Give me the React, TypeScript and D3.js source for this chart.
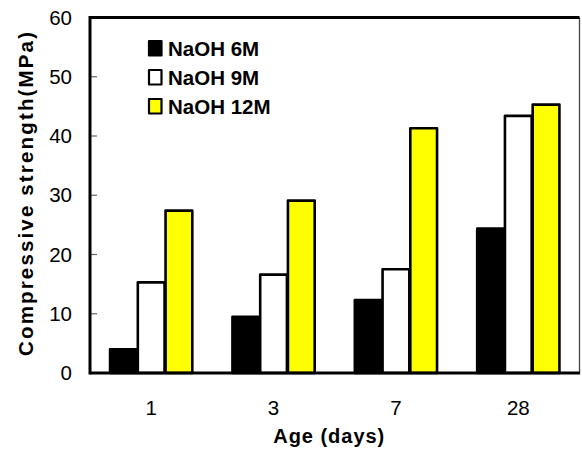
import React from "react";
import * as d3 from "d3";

const categories = ["1", "3", "7", "28"];
const seriesNames = ["NaOH 6M", "NaOH 9M", "NaOH 12M"];
const naoh6M = [4.0, 9.5, 12.3, 24.4];
const naoh9M = [15.3, 16.6, 17.5, 43.4];
const naoh12M = [27.4, 29.1, 41.3, 45.3];
const yTicks = [0, 10, 20, 30, 40, 50, 60];
const seriesColors = ["#000000", "#ffffff", "#ffff00"];

const W = 582;
const H = 450;
const left = 90;
const right = 579.5;
const top = 17.5;
const bottom = 373;
const FONT = "'Liberation Sans', Arial, Helvetica, sans-serif";

export default function App() {
  const series = [naoh6M, naoh9M, naoh12M];
  const x0 = d3
    .scaleBand<string>()
    .domain(categories)
    .range([left, right])
    .paddingInner(0.32)
    .paddingOuter(0.16);
  const x1 = d3
    .scaleBand<number>()
    .domain(d3.range(series.length))
    .range([0, x0.bandwidth()]);
  const y = d3.scaleLinear().domain([0, 60]).range([bottom, top]);

  return (
    <svg
      width={W}
      height={H}
      style={{ position: "absolute", left: 0, top: 0, background: "#fff" }}
      fontFamily={FONT}
    >
      <rect x={0} y={0} width={W} height={H} fill="#fff" />
      {/* inner tick marks */}
      {yTicks.slice(1, -1).map((t) => (
        <line
          key={"tk" + t}
          x1={left}
          x2={left + 7}
          y1={y(t)}
          y2={y(t)}
          stroke="#666"
          strokeWidth={1.2}
        />
      ))}
      {/* bars */}
      {categories.map((c, ci) => (
        <g key={c} transform={`translate(${x0(c)},0)`}>
          {series.map((s, si) => (
            <rect
              key={si}
              x={x1(si)! + 0.5}
              y={y(s[ci])}
              width={x1.bandwidth() - 1}
              height={y(0) - y(s[ci])}
              fill={seriesColors[si]}
              stroke="#000"
              strokeWidth={2.6}
              strokeLinejoin="round"
            />
          ))}
        </g>
      ))}
      {/* frame */}
      <line x1={right} x2={right} y1={top} y2={bottom} stroke="#444" strokeWidth={1.3} />
      <line x1={left} x2={right} y1={top} y2={top} stroke="#000" strokeWidth={3} />
      <line x1={left} x2={right + 0.6} y1={bottom} y2={bottom} stroke="#000" strokeWidth={3} />
      <line x1={left} x2={left} y1={top - 1.5} y2={bottom + 1.5} stroke="#000" strokeWidth={3} />
      {/* y tick labels */}
      {yTicks.map((t) => (
        <text
          key={"yl" + t}
          x={72}
          y={y(t) + 7}
          textAnchor="end"
          fontSize={20.5}
          fill="#000"
        >
          {t}
        </text>
      ))}
      {/* x tick labels */}
      {categories.map((c) => (
        <text
          key={"xl" + c}
          x={x0(c)! + x0.bandwidth() / 2}
          y={415}
          textAnchor="middle"
          fontSize={20.5}
          fill="#000"
        >
          {c}
        </text>
      ))}
      {/* axis titles */}
      <text
        x={(left + right) / 2 - 6}
        y={443}
        textAnchor="middle"
        fontSize={20}
        fontWeight="bold"
        textLength={111}
        lengthAdjust="spacing"
      >
        Age (days)
      </text>
      <text
        transform={`translate(33,${194}) rotate(-90)`}
        textAnchor="middle"
        fontSize={20.5}
        fontWeight="bold"
        textLength={324}
        lengthAdjust="spacing"
      >
        Compressive strength(MPa)
      </text>
      {/* legend */}
      {seriesNames.map((n, i) => (
        <g key={n} transform={`translate(149,${41 + i * 29})`}>
          <rect
            x={0}
            y={0}
            width={12.5}
            height={14.5}
            fill={seriesColors[i]}
            stroke="#000"
            strokeWidth={2.2}
            strokeLinejoin="round"
          />
          <text x={19} y={14.5} fontSize={20.5} fontWeight="bold" fill="#000">
            {n}
          </text>
        </g>
      ))}
    </svg>
  );
}
